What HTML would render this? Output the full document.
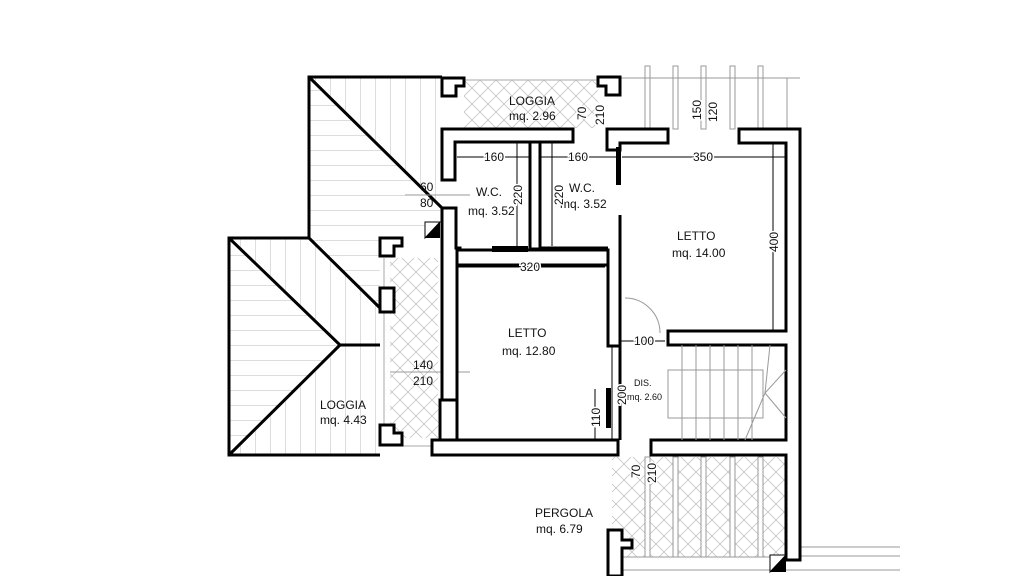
<!DOCTYPE html>
<html><head><style>
html,body{margin:0;padding:0;background:#fff;}
svg{display:block;}
text{font-family:"Liberation Sans",sans-serif;fill:#111;}
</style></head><body>
<svg width="1024" height="576" viewBox="0 0 1024 576" xmlns="http://www.w3.org/2000/svg">
<defs>
<pattern id="cross" width="16" height="16" patternUnits="userSpaceOnUse">
<path d="M0 0L16 16M16 0L0 16" stroke="#bbb" stroke-width="0.7"/>
</pattern>
<pattern id="hl" width="10" height="15" patternUnits="userSpaceOnUse">
<path d="M0 0H10" stroke="#aaa" stroke-width="0.8"/>
</pattern>
<pattern id="vl" width="15" height="10" patternUnits="userSpaceOnUse">
<path d="M0 0V10" stroke="#aaa" stroke-width="0.8"/>
</pattern>
</defs>

<!-- roofs -->
<polygon points="309,77 442,208 442,222 380,250 380,308 309,238" fill="url(#hl)"/>
<polygon points="309,77 442,77 442,208" fill="url(#vl)"/>
<polygon points="229,238 340,345 229,455" fill="url(#hl)"/>
<polygon points="229,238 309,238 380,308 380,455 229,455 340,345" fill="url(#vl)"/>
<g stroke="#000" stroke-width="3" fill="none">
<polyline points="442,77 309,77 309,238 229,238 229,455 380,455"/>
<line x1="309" y1="77" x2="442" y2="208"/>
<line x1="309" y1="238" x2="380" y2="308"/>
<polyline points="229,238 340,345 229,455"/>
<line x1="340" y1="345" x2="380" y2="345"/>
</g>

<!-- crosshatch areas -->
<rect x="464" y="80" width="134" height="48" fill="url(#cross)"/>
<rect x="390" y="258" width="48" height="180" fill="url(#cross)"/>
<rect x="612" y="457" width="174" height="100" fill="url(#cross)"/>
<g stroke="#aaa" stroke-width="1" fill="none">
<line x1="442" y1="80" x2="604" y2="80"/>
<line x1="388" y1="446" x2="432" y2="446"/>
<line x1="384" y1="258" x2="384" y2="425"/>
</g>
<!-- pergola posts -->
<g stroke="#999" stroke-width="1" fill="#fff">
<rect x="645" y="66" width="5" height="63"/><rect x="673" y="66" width="5" height="63"/>
<rect x="701" y="66" width="5" height="63"/><rect x="730" y="66" width="5" height="63"/>
<rect x="758" y="66" width="5" height="63"/>
<line x1="620" y1="78" x2="800" y2="78" fill="none"/>
<line x1="787" y1="78" x2="787" y2="129"/>
<rect x="645" y="457" width="5" height="100"/><rect x="673" y="457" width="5" height="100"/>
<rect x="701" y="457" width="5" height="100"/><rect x="730" y="457" width="5" height="100"/>
<rect x="758" y="457" width="5" height="100"/>
<line x1="618" y1="557" x2="786" y2="557"/>
<line x1="800" y1="547" x2="900" y2="547"/>
<line x1="800" y1="556" x2="900" y2="556"/>
<line x1="612" y1="570" x2="900" y2="570"/>
<line x1="405" y1="195" x2="470" y2="195"/>
<line x1="390" y1="372" x2="470" y2="372"/>
</g>

<!-- walls -->
<g stroke="#000" stroke-width="3" fill="#fff">
<polygon points="442,129 573,129 573,142 455,142 455,180 442,180"/>
<polygon points="442,208 456,208 456,248 460,248 460,256 457,256 457,440 442,440"/>
<rect x="457" y="250" width="151" height="15"/>
<rect x="432" y="440" width="186" height="15"/>
<rect x="530" y="142" width="10" height="107"/>
<polyline points="540,142 540,248 608,248" fill="none"/>
<polyline points="620,215 620,440" fill="none"/>
<polyline points="608,265 608,346 620,346" fill="none"/>
<polygon points="607,129 668,129 668,143 620,143 620,150 607,150 607,143"/>
<polygon points="739,129 800,129 800,560 786,560 786,455 651,455 651,440 786,440 786,345 668,345 668,331 786,331 786,143 739,143"/>
<rect x="440" y="400" width="17" height="40"/>
<polygon points="380,238 402,238 402,246 394,246 394,256 380,256"/>
<rect x="380" y="288" width="14" height="24"/>
<polygon points="380,425 394,425 394,433 402,433 402,445 380,445"/>
<polygon points="442,78 464,78 464,86 456,86 456,96 442,96"/>
<polygon points="598,77 620,77 620,95 606,95 606,86 598,86"/>
<polygon points="608,530 622,530 622,540 632,540 632,548 622,548 622,576 608,576"/>
</g>
<!-- doors / black -->
<g fill="#000">
<rect x="492" y="246" width="36" height="6"/>
<rect x="616" y="147" width="5" height="38"/>
<rect x="606" y="388" width="5" height="40"/>
<rect x="425" y="222" width="15" height="16"/>
<rect x="770" y="555" width="16" height="17"/>
</g>
<polygon points="425,222 440,222 425,238" fill="#fff" stroke="#000" stroke-width="1"/>
<polygon points="770,555 786,555 770,572" fill="#fff" stroke="#000" stroke-width="1"/>
<path d="M625,298 A35,35 0 0 1 660,333" fill="none" stroke="#999"/>
<!-- stairs -->
<g stroke="#999" stroke-width="1" fill="none">
<line x1="682" y1="345" x2="682" y2="440"/><line x1="696" y1="345" x2="696" y2="440"/>
<line x1="710" y1="345" x2="710" y2="440"/><line x1="724" y1="345" x2="724" y2="440"/>
<line x1="738" y1="345" x2="738" y2="440"/><line x1="752" y1="345" x2="752" y2="440"/>
<rect x="668" y="370" width="95" height="48"/>
<polyline points="786,370 765,393 786,418"/>
<polyline points="770,345 765,393 745,440"/>
</g>
<!-- dimension lines -->
<g stroke="#000" stroke-width="1" fill="none">
<line x1="457" y1="157" x2="530" y2="157"/><line x1="541" y1="157" x2="617" y2="157"/>
<line x1="622" y1="157" x2="786" y2="157"/>
<line x1="517" y1="143" x2="517" y2="246"/><line x1="552" y1="143" x2="552" y2="246"/>
<line x1="457" y1="267" x2="605" y2="267"/>
<line x1="773" y1="143" x2="773" y2="331"/>
<line x1="620" y1="341" x2="665" y2="341"/>
<line x1="612" y1="345" x2="612" y2="440"/>
<line x1="595" y1="389" x2="595" y2="440"/>
</g>
<g font-size="12">
<text x="509" y="105">LOGGIA</text><text x="509" y="120">mq. 2.96</text>
<text x="476" y="196">W.C.</text><text x="468" y="215">mq. 3.52</text>
<text x="569" y="192">W.C.</text><text x="560" y="208">mq. 3.52</text>
<text x="677" y="240">LETTO</text><text x="672" y="257">mq. 14.00</text>
<text x="508" y="337">LETTO</text><text x="502" y="355">mq. 12.80</text>
<text x="320" y="409">LOGGIA</text><text x="320" y="424">mq. 4.43</text>
<text x="535" y="517">PERGOLA</text><text x="536" y="533">mq. 6.79</text>
<text x="413" y="369">140</text><text x="413" y="385">210</text>
<text x="420" y="191">60</text><text x="420" y="207">80</text>
<g style="paint-order:stroke" stroke="#fff" stroke-width="3">
<text x="484" y="161">160</text>
<text x="568" y="161">160</text>
<text x="693" y="161">350</text>
<text x="520" y="271">320</text>
<text x="634" y="345">100</text>
<text transform="translate(522,205) rotate(-90)">220</text>
<text transform="translate(563,205) rotate(-90)">220</text>
<text transform="translate(778,252) rotate(-90)">400</text>
<text transform="translate(626,405) rotate(-90)">200</text>
<text transform="translate(600,427) rotate(-90)">110</text>
<text transform="translate(586,120) rotate(-90)">70</text>
<text transform="translate(604,125) rotate(-90)">210</text>
<text transform="translate(701,120) rotate(-90)">150</text>
<text transform="translate(717,122) rotate(-90)">120</text>
<text transform="translate(640,478) rotate(-90)">70</text>
<text transform="translate(656,483) rotate(-90)">210</text>
</g>
<text x="634" y="386" font-size="9">DIS.</text><text x="627" y="400" font-size="9">mq. 2.60</text>
</g>
</svg>
</body></html>
